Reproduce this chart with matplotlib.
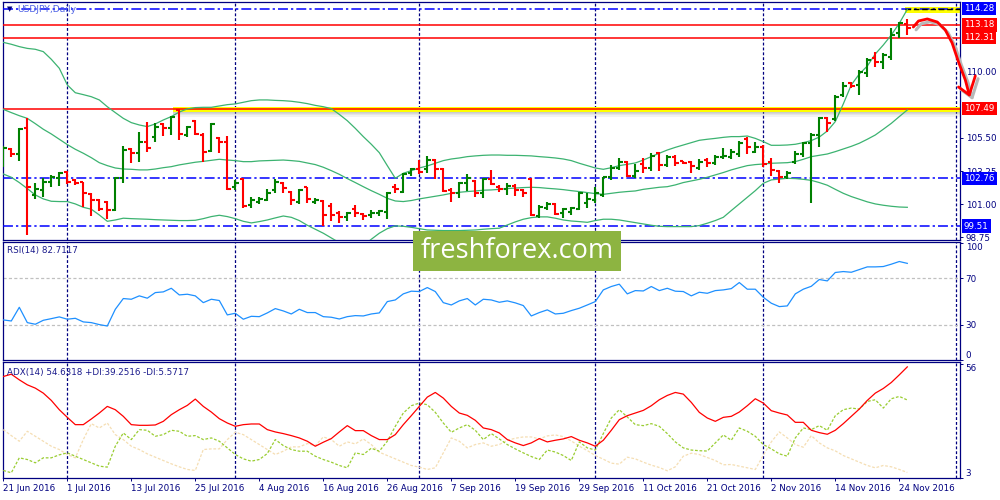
import matplotlib
matplotlib.use('Agg')
import matplotlib.pyplot as plt
import matplotlib.transforms as mtransforms
from matplotlib.patches import Rectangle
import numpy as np

# ---------------- data ----------------
date_labels = ['21 Jun 2016', '1 Jul 2016', '13 Jul 2016', '25 Jul 2016', '4 Aug 2016',
               '16 Aug 2016', '26 Aug 2016', '7 Sep 2016', '19 Sep 2016', '29 Sep 2016',
               '11 Oct 2016', '21 Oct 2016', '2 Nov 2016', '14 Nov 2016', '24 Nov 2016']
date_label_bars = [0, 8, 16, 24, 32, 40, 48, 56, 64, 72, 80, 88, 96, 104, 112]
month_start_bars = [8, 29, 52, 74, 95]

open_ = [104.00, 104.75, 104.41, 106.15, 101.63, 101.97, 102.53, 102.76, 103.21, 102.65,
         102.49, 101.70, 101.29, 101.13, 100.61, 102.76, 104.73, 104.46, 105.25, 105.59,
         106.45, 106.15, 107.40, 105.70, 106.67, 105.70, 104.62, 105.48, 105.25, 102.19,
         102.71, 100.95, 101.18, 101.29, 101.97, 102.42, 101.86, 101.18, 102.15, 101.18,
         101.24, 100.88, 100.43, 100.16, 100.66, 100.34, 100.27, 100.38, 100.50, 102.19,
         101.86, 103.10, 103.37, 103.37, 104.00, 103.37, 101.97, 101.74, 102.47, 102.60,
         101.79, 102.69, 102.19, 102.01, 102.24, 101.97, 102.69, 100.20, 100.72, 101.02,
         100.38, 100.50, 100.66, 101.06, 101.29, 101.63, 102.87, 103.44, 103.89, 102.92,
         103.73, 103.44, 104.50, 103.67, 104.23, 103.91, 103.87, 103.44, 104.00, 103.82,
         104.18, 104.23, 104.41, 105.41, 104.57, 104.91, 103.89, 103.28, 102.87, 103.89,
         104.41, 105.14, 105.70, 106.83, 106.76, 108.42, 109.21, 109.10, 109.89, 110.90,
         110.68, 111.02, 112.60, 113.24]
high = [104.98, 104.84, 106.15, 106.83, 102.47, 102.76, 102.99, 103.21, 103.28, 102.69,
        102.53, 101.74, 101.33, 101.22, 102.83, 104.98, 104.80, 105.93, 106.61, 106.54,
        106.49, 106.99, 107.49, 106.31, 106.72, 105.81, 106.49, 105.54, 105.63, 102.65,
        102.76, 101.52, 101.52, 102.01, 102.69, 102.49, 101.92, 102.01, 102.19, 101.40,
        101.29, 101.06, 100.57, 100.50, 100.95, 100.43, 100.61, 100.61, 101.86, 102.37,
        103.10, 103.44, 104.00, 104.27, 104.05, 103.44, 102.08, 102.53, 103.05, 102.65,
        102.76, 103.33, 102.31, 102.42, 102.35, 102.01, 102.76, 100.95, 101.18, 101.06,
        100.72, 100.84, 101.86, 101.74, 102.19, 102.87, 103.67, 104.12, 103.96, 103.73,
        104.12, 104.46, 104.57, 104.34, 104.34, 103.96, 103.96, 104.05, 104.12, 104.34,
        104.84, 104.73, 105.32, 105.54, 105.25, 105.02, 104.12, 103.33, 103.28, 104.64,
        105.25, 105.86, 106.90, 106.90, 108.42, 109.32, 109.32, 110.11, 110.90, 111.36,
        111.24, 112.94, 113.39, 113.55]
low = [103.55, 104.23, 103.96, 98.91, 101.33, 101.52, 102.15, 102.26, 102.37, 102.28,
       100.84, 100.20, 100.57, 100.00, 100.54, 102.42, 103.82, 103.89, 104.57, 105.25,
       105.63, 105.70, 105.36, 105.54, 105.70, 103.89, 104.57, 104.46, 101.97, 101.97,
       100.72, 100.72, 101.02, 101.24, 101.79, 101.74, 100.95, 101.02, 101.06, 101.02,
       99.52, 99.89, 99.71, 99.86, 100.16, 99.93, 100.05, 100.20, 100.00, 101.79,
       101.74, 102.92, 103.05, 103.10, 102.71, 101.86, 101.13, 101.40, 101.92, 101.52,
       101.40, 102.31, 101.86, 101.63, 101.56, 101.47, 100.20, 100.05, 100.61, 100.27,
       100.05, 100.27, 100.61, 100.72, 101.06, 101.52, 102.65, 103.33, 102.87, 102.76,
       103.10, 103.28, 103.28, 103.55, 103.60, 103.73, 103.10, 103.33, 103.55, 103.67,
       104.05, 104.05, 104.23, 104.41, 104.46, 103.55, 102.94, 102.47, 102.69, 103.73,
       104.23, 101.11, 104.91, 105.93, 106.67, 108.30, 108.87, 108.42, 109.66, 110.34,
       110.16, 110.79, 112.26, 112.49]
close = [104.80, 104.41, 106.11, 102.15, 102.01, 102.53, 102.83, 103.14, 102.53, 102.47,
         101.74, 101.29, 100.66, 100.61, 102.76, 104.68, 104.46, 105.25, 104.84, 106.27,
         106.15, 106.95, 105.77, 106.22, 105.77, 104.57, 106.45, 105.25, 102.01, 102.42,
         100.88, 101.29, 101.33, 101.74, 102.53, 102.08, 101.29, 101.97, 101.33, 101.29,
         100.27, 100.27, 100.16, 100.43, 100.38, 100.20, 100.43, 100.54, 101.79, 102.01,
         103.05, 103.37, 103.21, 104.00, 103.37, 101.92, 101.74, 102.47, 102.76, 101.79,
         102.69, 102.37, 102.01, 102.24, 101.97, 101.79, 100.27, 100.79, 101.02, 100.34,
         100.66, 100.72, 101.74, 101.33, 101.79, 102.83, 103.44, 103.89, 102.92, 103.28,
         103.44, 104.28, 103.67, 104.23, 103.82, 103.82, 103.60, 103.89, 103.78, 104.23,
         104.27, 104.57, 105.18, 104.91, 104.91, 103.73, 103.33, 102.87, 103.10, 104.41,
         105.14, 105.70, 106.83, 106.49, 108.30, 109.03, 109.03, 110.00, 110.79, 110.68,
         111.13, 112.49, 113.28, 112.94]

bb_upper = [111.99, 111.86, 111.70, 111.58, 111.52, 111.36, 110.84, 110.23, 109.10, 108.57,
            108.44, 108.30, 108.08, 107.62, 107.22, 106.83, 106.54, 106.38, 106.27, 106.45,
            106.72, 106.95, 107.26, 107.47, 107.56, 107.58, 107.58, 107.67, 107.76, 107.81,
            107.92, 108.03, 108.08, 108.08, 108.05, 108.03, 107.99, 107.92, 107.83, 107.71,
            107.62, 107.49, 107.10, 106.67, 106.15, 105.59, 105.07, 104.50, 103.62, 102.76,
            103.10, 103.28, 103.46, 103.60, 103.78, 103.96, 104.07, 104.14, 104.23, 104.28,
            104.32, 104.34, 104.34, 104.32, 104.32, 104.30, 104.28, 104.23, 104.19, 104.14,
            104.07, 103.96, 103.78, 103.62, 103.46, 103.37, 103.48, 103.62, 103.71, 103.80,
            104.00, 104.23, 104.46, 104.68, 104.86, 105.02, 105.18, 105.34, 105.41, 105.47,
            105.54, 105.59, 105.59, 105.63, 105.47, 105.25, 105.00, 105.00, 105.02, 105.07,
            105.18, 105.32, 105.56, 105.97, 106.61, 107.81, 109.10, 109.84, 110.38, 111.20,
            111.81, 112.49, 113.28, 114.23]
bb_middle = [107.44, 107.22, 107.01, 106.83, 106.47, 106.09, 105.77, 105.41, 105.05, 104.73,
             104.46, 104.16, 103.82, 103.62, 103.46, 103.39, 103.37, 103.33, 103.33, 103.39,
             103.48, 103.55, 103.67, 103.76, 103.85, 103.91, 103.98, 104.05, 104.00, 103.96,
             103.89, 103.89, 103.94, 103.96, 103.98, 104.00, 103.96, 103.91, 103.80, 103.69,
             103.51, 103.28, 103.03, 102.74, 102.47, 102.19, 101.92, 101.67, 101.40, 101.22,
             101.18, 101.25, 101.36, 101.45, 101.54, 101.63, 101.74, 101.81, 101.86, 101.90,
             101.95, 101.97, 102.01, 102.06, 102.10, 102.13, 102.15, 102.13, 102.08, 102.04,
             101.99, 101.92, 101.86, 101.79, 101.72, 101.67, 101.74, 101.81, 101.86, 101.90,
             102.01, 102.08, 102.15, 102.19, 102.31, 102.47, 102.58, 102.69, 102.83, 102.99,
             103.15, 103.33, 103.48, 103.62, 103.69, 103.73, 103.78, 103.80, 103.82, 103.89,
             104.05, 104.23, 104.32, 104.41, 104.57, 104.75, 104.93, 105.14, 105.41, 105.70,
             106.09, 106.49, 106.95, 107.40]
bb_lower = [103.05, 102.83, 102.47, 102.06, 101.63, 101.36, 101.20, 101.18, 101.18, 101.02,
            100.79, 100.66, 100.27, 99.84, 99.93, 100.05, 100.02, 100.00, 99.98, 99.95,
            99.93, 99.91, 99.89, 99.89, 99.91, 100.02, 100.16, 100.25, 100.16, 100.02,
            99.84, 99.73, 99.82, 99.93, 100.07, 100.20, 100.11, 99.89, 99.57, 99.30,
            99.03, 98.71, 98.39, 98.17, 98.08, 98.17, 98.62, 99.03, 99.34, 99.53,
            99.50, 99.43, 99.34, 99.25, 99.23, 99.21, 99.21, 99.21, 99.23, 99.25,
            99.30, 99.34, 99.37, 99.59, 99.80, 99.98, 100.09, 100.14, 100.14, 100.05,
            99.93, 99.86, 99.82, 99.77, 99.89, 99.98, 99.98, 99.93, 99.84, 99.75,
            99.66, 99.57, 99.50, 99.48, 99.48, 99.48, 99.48, 99.55, 99.71, 99.89,
            100.11, 100.57, 101.02, 101.47, 101.92, 102.42, 102.65, 102.71, 102.76, 102.74,
            102.69, 102.62, 102.47, 102.29, 102.01, 101.74, 101.52, 101.34, 101.16, 101.02,
            100.93, 100.86, 100.81, 100.79]

rsi = [34.3, 33.4, 45.1, 32.0, 30.6, 34.0, 35.4, 36.9, 34.9, 35.7,
       32.6, 32.0, 30.3, 29.1, 43.4, 52.6, 52.0, 54.9, 52.9, 57.7,
       58.3, 61.4, 55.7, 56.3, 54.9, 49.1, 52.0, 50.9, 38.6, 40.0,
       34.9, 37.4, 37.1, 40.3, 44.0, 42.0, 39.4, 43.4, 40.6, 40.6,
       37.1, 36.6, 35.1, 37.1, 38.0, 37.7, 39.4, 40.3, 50.0, 51.4,
       56.6, 58.9, 58.6, 62.0, 58.6, 49.1, 47.1, 50.6, 52.6, 47.1,
       52.0, 51.4, 49.4, 50.6, 48.9, 46.6, 37.7, 40.6, 42.9, 39.4,
       40.0, 42.3, 44.3, 47.1, 50.0, 60.0, 62.9, 64.9, 56.6, 59.4,
       59.1, 62.9, 59.4, 61.4, 58.9, 58.6, 54.9, 58.0, 57.1, 59.4,
       60.0, 61.1, 66.3, 60.6, 60.6, 53.7, 48.6, 45.7, 46.3, 56.6,
       60.6, 63.1, 68.9, 67.7, 74.9, 75.7, 75.1, 77.4, 79.7, 79.7,
       80.0, 82.0, 84.3, 82.71]

adx = [50.16, 51.24, 48.61, 46.30, 44.76, 42.44, 39.05, 34.73, 31.18, 27.79,
       27.79, 30.41, 33.19, 36.27, 34.73, 31.65, 27.79, 27.48, 27.48, 27.64,
       29.33, 32.42, 34.73, 36.74, 39.67, 36.27, 33.65, 30.57, 28.56, 27.02,
       27.79, 28.10, 28.10, 25.48, 24.40, 23.63, 22.70, 21.62, 20.08, 17.76,
       19.62, 21.31, 24.40, 27.33, 25.01, 25.01, 22.70, 20.85, 20.85, 23.16,
       27.79, 31.96, 36.27, 40.59, 42.75, 40.13, 36.27, 33.19, 32.11, 29.80,
       26.25, 25.48, 23.93, 20.85, 19.31, 18.07, 19.31, 21.31, 19.77, 20.54,
       21.16, 22.24, 20.54, 19.31, 17.76, 20.54, 25.17, 30.10, 31.96, 33.19,
       34.42, 36.58, 39.36, 41.36, 42.75, 41.98, 38.13, 33.50, 30.88, 29.33,
       31.18, 31.65, 33.65, 36.58, 39.82, 37.82, 34.27, 33.19, 32.27, 28.87,
       28.87, 25.17, 24.09, 23.32, 25.17, 28.25, 31.65, 35.04, 39.05, 42.44,
       44.60, 47.38, 50.93, 54.63]
plus_di = [6.50, 5.42, 12.37, 11.59, 10.05, 12.37, 12.37, 13.76, 14.68, 13.13,
           11.59, 10.05, 8.51, 8.05, 17.76, 23.93, 20.85, 25.48, 25.17, 22.39,
           23.16, 25.17, 24.71, 22.39, 22.70, 20.85, 21.62, 20.08, 17.00, 13.91,
           11.90, 10.82, 11.59, 14.37, 20.85, 18.07, 16.22, 15.45, 15.45, 13.13,
           11.59, 10.36, 8.82, 7.74, 14.68, 13.91, 16.84, 15.45, 20.08, 27.02,
           33.19, 36.58, 37.82, 37.05, 33.50, 28.56, 24.24, 26.25, 27.79, 25.17,
           20.85, 23.63, 21.16, 18.54, 16.53, 14.68, 12.98, 11.59, 15.99, 15.07,
           13.44, 11.13, 19.77, 17.00, 15.99, 23.63, 30.88, 34.73, 31.34, 27.79,
           27.33, 28.25, 27.02, 23.63, 19.77, 17.00, 15.99, 15.68, 15.53, 19.31,
           23.01, 20.54, 26.25, 24.71, 22.39, 18.54, 16.53, 14.22, 13.13, 21.62,
           26.25, 25.48, 27.33, 25.17, 31.96, 34.73, 35.50, 35.04, 38.59, 39.36,
           35.50, 39.82, 40.90, 39.25]
minus_di = [25.48, 22.70, 20.08, 24.71, 22.39, 20.08, 17.76, 16.22, 13.91, 12.37,
            20.85, 28.25, 26.25, 28.56, 23.16, 20.85, 17.76, 16.22, 14.22, 12.67,
            11.13, 9.59, 8.20, 6.97, 6.50, 16.22, 16.53, 16.53, 20.85, 24.24,
            23.16, 20.85, 18.54, 16.22, 13.91, 15.45, 17.46, 17.46, 19.00, 18.07,
            22.08, 20.85, 17.76, 19.77, 18.84, 21.16, 18.54, 14.99, 13.44, 11.90,
            10.36, 8.82, 8.05, 6.97, 7.74, 14.68, 21.62, 20.08, 17.00, 18.54,
            19.31, 17.76, 18.54, 20.54, 21.47, 22.08, 22.08, 21.16, 22.55, 23.01,
            22.24, 20.23, 17.76, 15.76, 13.44, 11.74, 9.90, 9.43, 12.67, 11.90,
            10.36, 8.97, 7.89, 6.35, 8.20, 13.13, 14.53, 13.91, 12.52, 11.13,
            9.13, 9.28, 8.51, 7.74, 6.97, 13.60, 19.77, 24.40, 21.62, 18.54,
            17.30, 22.70, 19.31, 17.00, 15.61, 13.44, 11.90, 10.36, 8.82, 7.74,
            8.82, 8.20, 6.97, 5.57]

blue_levels = [114.28, 102.76, 99.51]
red_levels = [113.18, 112.31, 107.49]
price_ticks = [110.00, 105.50, 103.25, 101.00, 98.75]
rsi_levels = [70, 30]

# ---------------- styling ----------------
NAVY = '#000080'
UP = '#008000'
DOWN = '#ff0000'
BB = '#3cb371'
FS = 6.3
plt.rcParams['font.family'] = ['DejaVu Sans']

W, H = 1000, 500
fig = plt.figure(figsize=(10, 5), dpi=100)
fig.patch.set_facecolor('white')

LEFT_PX, RIGHT_PX = 2.5, 960.0


def px_axes(top, bottom):
    return fig.add_axes([LEFT_PX / W, 1 - bottom / H, (RIGHT_PX - LEFT_PX) / W, (bottom - top) / H])


ax = px_axes(2, 240)
ax_rsi = px_axes(242, 360)
ax_adx = px_axes(362, 478)

n = len(close)
xs = np.arange(n)
XMIN = -0.1
XMAX = XMIN + (RIGHT_PX - LEFT_PX) / 8.0
SEP_END = 119.1

for a in (ax, ax_rsi, ax_adx):
    a.set_xlim(XMIN, XMAX)
    a.set_facecolor('white')
    for s in a.spines.values():
        s.set_color(NAVY)
        s.set_linewidth(0.9)
    a.yaxis.tick_right()
    a.tick_params(axis='y', colors=NAVY, labelsize=FS, length=2.5, width=0.7, pad=1.5,
                  labelcolor=NAVY)
    for b in month_start_bars + [SEP_END]:
        a.axvline(b, color=NAVY, lw=0.9, ls=(0, (2.3, 1.6)), zorder=1)

# ---------------- main price panel ----------------
ax.set_ylim(98.57, 114.73)
ax.set_xticks([])

# yellow highlight zones + shadow
ax.add_patch(Rectangle((21.25, 107.27), XMAX - 21.25, 0.36, fc='#ffff00', ec='none', zorder=2))
for k, al in enumerate([0.4, 0.3, 0.2, 0.1]):
    ax.add_patch(Rectangle((21.25, 107.27 - 0.08 * (k + 1)), XMAX - 21.25, 0.08,
                           fc='#808080', ec='none', alpha=al, zorder=2))
ax.add_patch(Rectangle((112.75, 113.97), XMAX - 112.75, 0.45, fc='#ffff00', ec='none', zorder=2))

for lv in blue_levels:
    ax.axhline(lv, color='#0000ff', lw=1.1, ls=(0, (6.5, 2, 1.5, 2)), zorder=3)
for lv in red_levels:
    ax.axhline(lv, color='#ff0000', lw=1.1, zorder=3)
ax.plot([112.75, XMAX], [114.28, 114.28], color='black', lw=1.0, ls=(0, (4, 2)), zorder=4)

# Bollinger bands
for band in (bb_upper, bb_middle, bb_lower):
    ax.plot(xs, band, color=BB, lw=0.9, zorder=4)

# OHLC bars
o = np.array(open_); c = np.array(close)
cols = np.where(c >= o, UP, DOWN)
ax.vlines(xs, low, high, colors=cols, lw=1.5, zorder=5)
ax.hlines(open_, xs - 0.42, xs, colors=cols, lw=1.5, zorder=5)
ax.hlines(close, xs, xs + 0.42, colors=cols, lw=1.5, zorder=5)

# right price axis
ax.set_yticks(price_ticks)
ax.set_yticklabels(['%.2f' % v for v in price_ticks])
bt = mtransforms.blended_transform_factory(ax.transAxes, ax.transData)
xlab = (964 - LEFT_PX) / (RIGHT_PX - LEFT_PX)
for lv, colr in [(114.28, '#0000ff'), (113.18, '#ff0000'), (112.31, '#ff0000'),
                 (107.49, '#ff0000'), (102.76, '#0000ff'), (99.51, '#0000ff')]:
    ax.text(xlab, lv, '%.2f' % lv, transform=bt, color='white', fontsize=FS,
            ha='left', va='center', clip_on=False, zorder=20,
            bbox=dict(boxstyle='square,pad=0.25', fc=colr, ec='none'))

# hand-drawn arrow (annotation) in price coordinates
arrow_x = [113.75, 114.4, 115.5, 116.75, 117.75, 118.6, 119.4, 120.25, 120.75]
arrow_y = [113.03, 113.44, 113.58, 113.37, 112.83, 111.95, 110.66, 109.44, 108.42]
head_x = [119.4, 120.75, 121.5]
head_y = [108.96, 108.42, 109.71]
shadow = mtransforms.offset_copy(ax.transData, fig=fig, x=2, y=-2, units='points')
for tr, colr, lw in [(shadow, '#b8b8b8', 2.2), (ax.transData, '#ff0000', 2.0)]:
    ax.plot(arrow_x, arrow_y, color=colr, lw=lw, transform=tr, clip_on=False,
            zorder=30, solid_capstyle='round', solid_joinstyle='round')
    ax.plot(head_x, head_y, color=colr, lw=lw, transform=tr, clip_on=False,
            zorder=30, solid_capstyle='round', solid_joinstyle='round')

fig.text(6.5 / W, 1 - 9.5 / H, '\u25bc', fontsize=5, color=NAVY, va='center', ha='left')
fig.text(17 / W, 1 - 10 / H, 'USDJPY,Daily', fontsize=FS + 0.3, color='#4f63e6',
         va='center', ha='left')

# ---------------- RSI ----------------
ax_rsi.set_ylim(0, 101)
ax_rsi.set_xticks([])
for lv in rsi_levels:
    ax_rsi.axhline(lv, color='#c0c0c0', lw=0.9, ls=(0, (2.5, 1.8)), zorder=1)
ax_rsi.plot(xs, rsi, color='#1e90ff', lw=0.9, zorder=4)
ax_rsi.set_yticks([0, 30, 70, 100])
ax_rsi.set_yticklabels(['0', '30', '70', '100'])
labs = ax_rsi.get_yticklabels()
labs[0].set_va('bottom')
labs[3].set_va('top')
fig.text(7 / W, 1 - 251 / H, 'RSI(14) 82.7117', fontsize=FS, color='#1a1a8c',
         va='center', ha='left')

# ---------------- ADX ----------------
ax_adx.set_ylim(3.0, 56.9)
ax_adx.plot(xs, minus_di, color='#f5deb3', lw=0.9, ls=(0, (2.2, 1.4)), zorder=3)
ax_adx.plot(xs, plus_di, color='#9acd32', lw=0.9, ls=(0, (2.2, 1.4)), zorder=3)
ax_adx.plot(xs, adx, color='#ff0000', lw=0.9, zorder=4)
ax_adx.set_yticks([3, 56])
ax_adx.set_yticklabels(['3', '56'])
labs = ax_adx.get_yticklabels()
labs[0].set_va('bottom')
labs[1].set_va('top')
ax_adx.set_xticks(date_label_bars)
ax_adx.set_xticklabels(date_labels, ha='left')
ax_adx.tick_params(axis='x', colors=NAVY, labelsize=FS, length=2.5, width=0.7, pad=2,
                   labelcolor=NAVY)
fig.text(7 / W, 1 - 372 / H, 'ADX(14) 54.6318 +DI:39.2516 -DI:5.5717', fontsize=FS,
         color='#1a1a8c', va='center', ha='left')

# ---------------- watermark ----------------
fig.add_artist(Rectangle((413 / W, 1 - 271 / H), 208 / W, 40 / H, transform=fig.transFigure,
                         fc='#8db441', ec='none', zorder=40))
fig.text(517 / W, 1 - 251.5 / H, 'freshforex.com', fontsize=19.5, color='white',
         family=['Open Sans', 'DejaVu Sans'], ha='center', va='center', zorder=41)

fig.savefig('out.png', dpi=100, facecolor='white')
